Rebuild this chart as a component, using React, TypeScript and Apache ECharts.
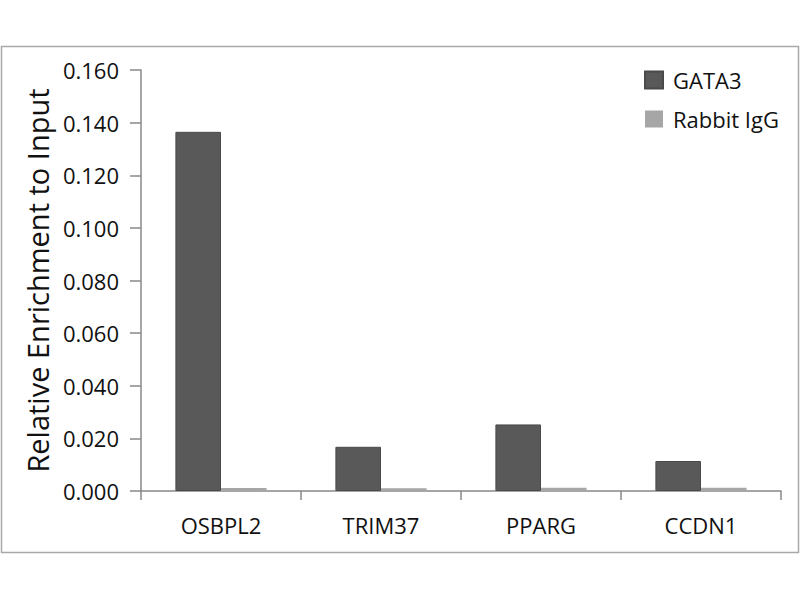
import React, { useEffect, useRef } from "react";
import * as echarts from "echarts";

const categories = ["OSBPL2", "TRIM37", "PPARG", "CCDN1"];
const gata3 = [0.1365, 0.0168, 0.0253, 0.0114];
const rabbitIgG = [0.0011, 0.001, 0.0012, 0.0012];
const yTicks = { min: 0, max: 0.16, interval: 0.02 };

const FONT = "Open Sans";
const TEXT = "#111111";

export default function App() {
  const ref = useRef<HTMLDivElement>(null);
  useEffect(() => {
    if (!ref.current) return;
    const chart = echarts.init(ref.current, undefined, { renderer: "svg" });
    chart.setOption({
      animation: false,
      backgroundColor: "#ffffff",
      textStyle: { fontFamily: FONT },
      graphic: [
        {
          type: "rect",
          shape: { x: 1.5, y: 46.5, width: 797, height: 506 },
          style: { fill: "none", stroke: "#a8a8a8", lineWidth: 1.5 },
          silent: true,
        },
      ],
      grid: { left: 141, right: 19, top: 70, bottom: 109 },
      legend: {
        orient: "vertical",
        left: 644,
        top: 69,
        padding: 0,
        itemWidth: 18,
        itemHeight: 17,
        itemGap: 17,
        icon: "rect",
        textStyle: { fontFamily: FONT, fontSize: 22, color: TEXT, padding: [0, 0, 0, 5] },
        data: ["GATA3", "Rabbit IgG"],
      },
      xAxis: {
        type: "category",
        data: categories,
        axisLine: { lineStyle: { color: "#888888", width: 1.5 } },
        axisTick: { show: true, length: 9, lineStyle: { color: "#888888", width: 1.5 } },
        axisLabel: { fontFamily: FONT, fontSize: 22, color: TEXT, margin: 23 },
      },
      yAxis: {
        type: "value",
        min: yTicks.min,
        max: yTicks.max,
        interval: yTicks.interval,
        name: "Relative Enrichment to Input",
        nameLocation: "middle",
        nameGap: 88,
        nameTextStyle: { fontFamily: FONT, fontSize: 29, color: TEXT },
        axisLine: { show: true, lineStyle: { color: "#888888", width: 1.5 } },
        axisTick: { show: true, length: 11, lineStyle: { color: "#888888", width: 1.5 } },
        splitLine: { show: false },
        axisLabel: {
          fontFamily: FONT,
          fontSize: 22,
          color: TEXT,
          margin: 22,
          formatter: (v: number) => v.toFixed(3),
        },
      },
      series: [
        {
          name: "GATA3",
          type: "bar",
          data: gata3,
          barGap: "0%",
          barCategoryGap: "43%",
          itemStyle: { color: "#595959", borderColor: "#4a4a4a", borderWidth: 1 },
        },
        {
          name: "Rabbit IgG",
          type: "bar",
          data: rabbitIgG,
          itemStyle: { color: "#a6a6a6" },
        },
      ],
    });
    return () => chart.dispose();
  }, []);
  return (
    <div
      ref={ref}
      style={{ position: "absolute", left: 0, top: 0, width: 800, height: 600 }}
    />
  );
}
